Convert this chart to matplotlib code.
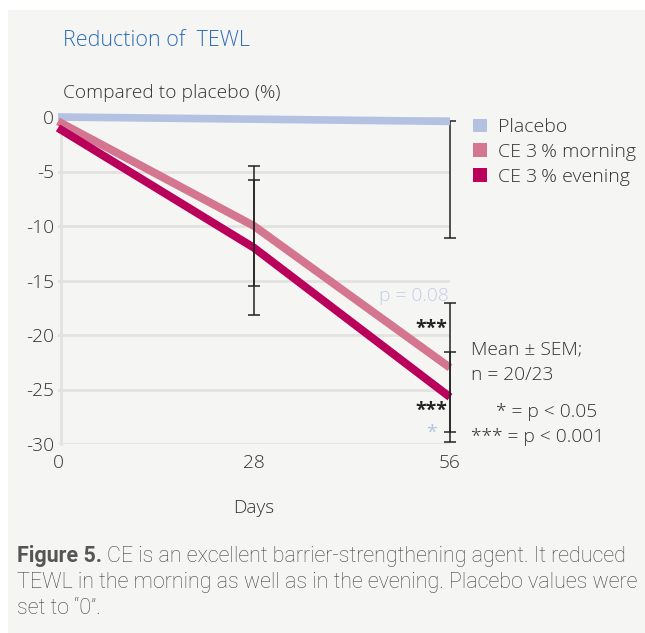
import numpy as np
import matplotlib.pyplot as plt
from matplotlib.patches import Rectangle, Patch

plt.rcParams['axes.unicode_minus'] = False

# Datos
dias = [0, 28, 56]
placebo = [0, -0.2, -0.4]
manana = [-0.4, -10, -23]
noche = [-1.0, -12, -25.7]
# SEM en dias 28 y 56
sem_manana = [5.5, 5.9]
sem_noche = [6.2, 4.1]
sem_placebo = 10.7
etiquetas = ['Placebo', 'CE 3\u2009% morning', 'CE 3\u2009% evening']
colores = ['#b5c1e1', '#d47690', '#b9005a']
y_ticks = [0, -5, -10, -15, -20, -25, -30]

W, H = 645, 633
fig = plt.figure(figsize=(W / 100, H / 100), dpi=100)
fig.patch.set_facecolor('white')
fig.add_artist(Rectangle((8 / W, 0), 1, (H - 10) / H, transform=fig.transFigure,
                         facecolor='#f5f5f4', edgecolor='none', zorder=0))

fuente = 'Open Sans'
peso = 'light'
gris = '#333333'
fs = 13.8

ax = fig.add_axes([58 / W, (H - 444) / H, 392 / W, 327 / H])
ax.set_facecolor('none')
ax.set_xlim(0, 56)
ax.set_ylim(-30, 0)
for s in ['top', 'right', 'bottom']:
    ax.spines[s].set_visible(False)
ax.spines['left'].set_color('#e2e2e2')
ax.spines['left'].set_linewidth(2)
ax.spines['left'].set_position(('outward', -2))
ax.set_yticks(y_ticks)
ax.set_xticks(dias)
ax.tick_params(length=0, labelsize=fs, labelcolor=gris, pad=5)
ax.tick_params(axis='x', pad=7)
for lab in ax.get_xticklabels() + ax.get_yticklabels():
    lab.set_fontfamily(fuente)
    lab.set_fontweight(peso)
for yv in y_ticks:
    ax.axhline(yv, color='#e2e2e2', lw=2, zorder=1)

ax.plot(dias, placebo, color=colores[0], lw=5.5, solid_capstyle='butt', zorder=3, clip_on=False)
ax.plot(dias, manana, color=colores[1], lw=5.8, solid_capstyle='butt', zorder=4, clip_on=False)
ax.plot(dias, noche, color=colores[2], lw=5.8, solid_capstyle='butt', zorder=5, clip_on=False)

# barras de error
ax.errorbar(dias[1:], manana[1:], yerr=sem_manana, fmt='none', ecolor='#222222',
            elinewidth=1.1, capsize=4, capthick=1.1, zorder=6, clip_on=False)
ax.errorbar(dias[1:], noche[1:], yerr=sem_noche, fmt='none', ecolor='#222222',
            elinewidth=1.1, capsize=4, capthick=1.1, zorder=6, clip_on=False)
ax.errorbar([dias[2]], [placebo[2]], yerr=[[sem_placebo], [0]], fmt='none', ecolor='#222222',
            elinewidth=1.1, capsize=4, capthick=1.1, zorder=2, clip_on=False)

ax.text(55.8, -16.4, 'p = 0.08', color='#c3cde8', fontsize=fs, ha='right', va='center',
        family=fuente, fontweight=peso)
ax.text(55.6, -19.4, '***', color='#222222', fontsize=14, ha='right', va='center',
        family=fuente, fontweight='bold')
ax.text(55.6, -27.0, '***', color='#222222', fontsize=14, ha='right', va='center',
        family=fuente, fontweight='bold')
ax.text(54.2, -29.0, '*', color='#b5c1e1', fontsize=14, ha='right', va='center', family=fuente)

ax.text(28, -35.9, 'Days', color=gris, fontsize=fs, ha='center', va='center', family=fuente,
        fontweight=peso)

handles = [Patch(facecolor=c, edgecolor='none', label=l) for c, l in zip(colores, etiquetas)]
leg = ax.legend(handles=handles, loc='upper left', bbox_to_anchor=(1.04, 1.02), frameon=False,
                handlelength=0.72, handleheight=0.72, handletextpad=0.55, labelspacing=0.35,
                borderaxespad=0, prop={'family': fuente, 'size': 14, 'weight': peso})
for t in leg.get_texts():
    t.set_color(gris)

fig.text(63 / W, 1 - 41 / H, 'Reduction of  TEWL', color='#2f6eb5', fontsize=15.5,
         family=fuente, fontweight=peso, va='center', ha='left')
fig.text(63 / W, 1 - 93 / H, 'Compared to placebo (%)', color=gris, fontsize=fs,
         family=fuente, fontweight=peso, va='center', ha='left')
fig.text(471 / W, 1 - 349 / H, 'Mean ± SEM;', color=gris, fontsize=fs, family=fuente,
         fontweight=peso, va='center')
fig.text(471 / W, 1 - 375 / H, 'n = 20/23', color=gris, fontsize=fs, family=fuente,
         fontweight=peso, va='center')
fig.text(597 / W, 1 - 412 / H, '* = p < 0.05', color=gris, fontsize=fs, family=fuente,
         fontweight=peso, va='center', ha='right')
fig.text(471 / W, 1 - 437 / H, '*** = p < 0.001', color=gris, fontsize=fs, family=fuente,
         fontweight=peso, va='center')

# leyenda de la figura
cap_color = '#444444'
cfs = 15.5
r = fig.canvas.get_renderer()
t0 = fig.text(17 / W, 1 - 562 / H, 'Figure 5.', color='#555555', fontsize=cfs,
              family='Roboto', fontweight='bold', va='baseline')
bb = t0.get_window_extent(renderer=r)
fig.text((bb.x1 + 5) / W, 1 - 562 / H, 'CE is an excellent barrier-strengthening agent. It reduced',
         color=cap_color, fontsize=cfs, family='Roboto', fontweight='light', va='baseline')
fig.text(17 / W, 1 - 588 / H, 'TEWL in the morning as well as in the evening. Placebo values were',
         color=cap_color, fontsize=cfs, family='Roboto', fontweight='light', va='baseline')
fig.text(17 / W, 1 - 614 / H, 'set to \u201c0\u201d.', color=cap_color, fontsize=cfs,
         family='Roboto', fontweight='light', va='baseline')

fig.savefig('out.png', dpi=100)
